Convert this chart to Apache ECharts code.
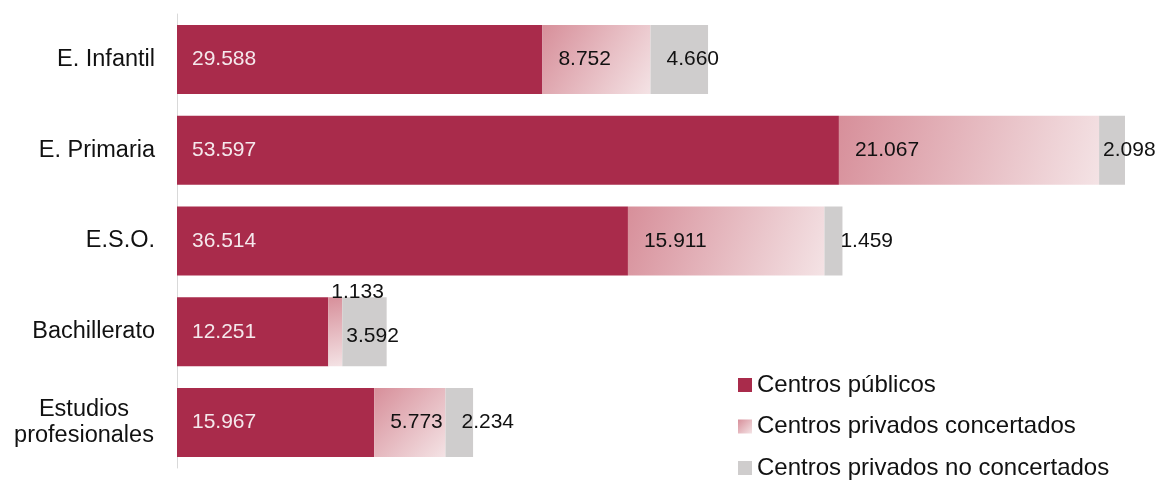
<!DOCTYPE html>
<html>
<head>
<meta charset="utf-8">
<script src="https://cdn.jsdelivr.net/npm/echarts@6/dist/echarts.min.js"></script>
<style>
html,body{margin:0;padding:0;background:#fff;}
#chart{width:1159px;height:480px;}
</style>
</head>
<body>
<div id="chart"></div>
<script>
const categories = ['E. Infantil', 'E. Primaria', 'E.S.O.', 'Bachillerato', 'Estudios profesionales'];
const seriesNames = ['Centros públicos', 'Centros privados concertados', 'Centros privados no concertados'];
const publicos = [29588, 53597, 36514, 12251, 15967];
const concertados = [8752, 21067, 15911, 1133, 5773];
const noConcertados = [4660, 2098, 1459, 3592, 2234];

const FONT = '"Liberation Sans", Arial, sans-serif';
const fmt = v => String(v).replace(/\B(?=(\d{3})+(?!\d))/g, '.');
const totals = publicos.map((v, i) => v + concertados[i] + noConcertados[i]);
const maxTotal = Math.max.apply(null, totals);

const crimson = '#a92b4b';
const grad = new echarts.graphic.LinearGradient(0, 0, 1, 1, [
  { offset: 0, color: '#d78f9a' },
  { offset: 1, color: '#f4e3e5' }
]);
const gray = '#cfcdcd';

const baseLabel = {
  show: true,
  position: 'insideLeft',
  distance: 16,
  fontFamily: FONT,
  fontSize: 21,
  color: '#111',
  formatter: p => fmt(p.value)
};

const pubData = publicos.map(v => ({ value: v }));
const concData = concertados.map((v, i) => {
  if (categories[i] === 'Bachillerato') {
    return { value: v, label: { position: [3, -5], align: 'left', verticalAlign: 'middle' } };
  }
  return { value: v };
});
const noConcData = noConcertados.map((v, i) => {
  const c = categories[i];
  if (c === 'E. Primaria') return { value: v, label: { distance: 4 } };
  if (c === 'Bachillerato') return { value: v, label: { distance: 4, offset: [0, 4] } };
  return { value: v };
});

const chart = echarts.init(document.getElementById('chart'), null, { renderer: 'canvas' });
chart.setOption({
  animation: false,
  backgroundColor: '#ffffff',
  grid: { left: 177, right: 1159 - 1125, top: 14, bottom: 12, containLabel: false },
  xAxis: {
    type: 'value',
    min: 0,
    max: maxTotal,
    show: false
  },
  yAxis: {
    type: 'category',
    data: categories,
    inverse: true,
    axisLine: { show: true, lineStyle: { color: '#d9d9d9', width: 1 } },
    axisTick: { show: false },
    axisLabel: {
      margin: 22,
      fontFamily: FONT,
      fontSize: 23.5,
      color: '#111',
      formatter: v => {
        if (v === 'Estudios profesionales') return '{c|Estudios}\n{c|profesionales}';
        return v;
      },
      rich: {
        c: { fontFamily: FONT, fontSize: 23.5, color: '#111', width: 142, align: 'center', lineHeight: 26 }
      }
    },
    splitLine: { show: false }
  },
  legend: {
    orient: 'vertical',
    left: 738,
    top: 373,
    height: 200,
    padding: 0,
    itemWidth: 14,
    itemHeight: 14,
    itemGap: 17.5,
    icon: 'rect',
    data: seriesNames,
    textStyle: { fontFamily: FONT, fontSize: 24, color: '#111', lineHeight: 24 }
  },
  series: [
    {
      name: seriesNames[0], type: 'bar', stack: 'total', barWidth: 69,
      itemStyle: { color: crimson },
      label: Object.assign({}, baseLabel, { distance: 15, color: '#f5e8ec' }),
      data: pubData
    },
    {
      name: seriesNames[1], type: 'bar', stack: 'total', barWidth: 69,
      itemStyle: { color: grad },
      label: baseLabel,
      data: concData
    },
    {
      name: seriesNames[2], type: 'bar', stack: 'total', barWidth: 69,
      itemStyle: { color: gray },
      label: baseLabel,
      data: noConcData
    }
  ]
});
</script>
</body>
</html>
